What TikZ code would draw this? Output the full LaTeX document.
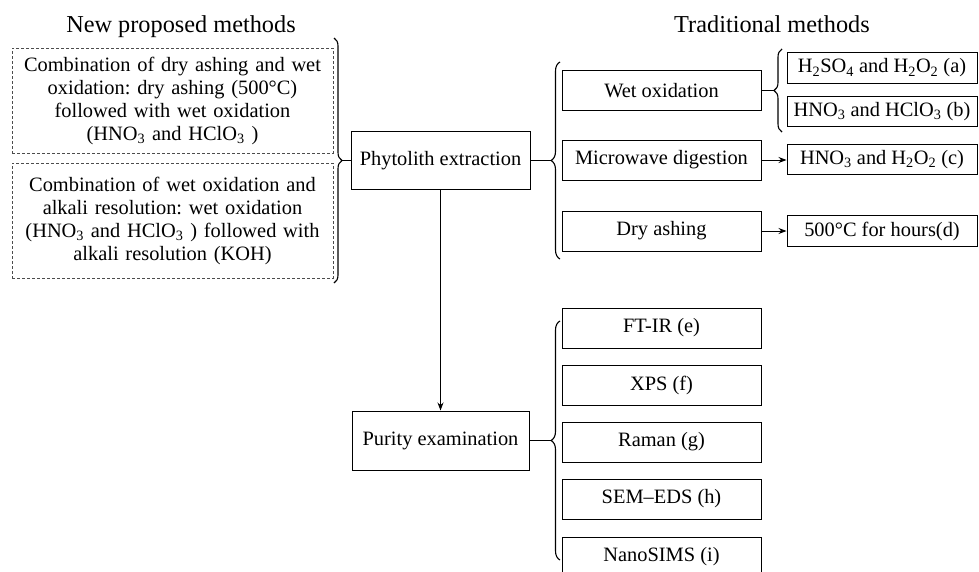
\documentclass[tikz,border=0pt]{standalone}
\usepackage{fontspec}
\setmainfont{Liberation Serif}
\usetikzlibrary{decorations.pathreplacing,arrows.meta}

\newcommand{\sub}[1]{\textsubscript{#1}}
\frenchspacing

\begin{document}
\begin{tikzpicture}[x=1pt,y=-1pt,>={Stealth[length=8pt,width=6pt]},
	box/.style={draw,line width=1pt,inner sep=0pt,font=\fontsize{20.4}{23}\selectfont},
	wide/.style={box,minimum width=199,minimum height=40},
	small/.style={box,minimum width=190,minimum height=30.5},
	dbox/.style={draw=black!70,line width=0.9pt,dash pattern=on 3pt off 2pt,minimum width=321,
		text width=315,align=center,inner sep=0pt,font=\fontsize{20.4}{23}\selectfont},
	title/.style={anchor=base,font=\fontsize{24.3}{28}\selectfont},
	brace/.style={decorate,line width=1.1pt,decoration={brace,amplitude=#1}}]
	\useasboundingbox (0,0) rectangle (979,571);
	% Tiêu đề
	\node[title] (newt) at (181,32) {New proposed methods};
	\node[title] (tradt) at (772,32) {Traditional methods};
	% Phương pháp mới
	\node[dbox,minimum height=105] (comb1) at (172.5,100.5) {Combination of dry ashing and wet\\ oxidation: dry ashing (500°C)\\ followed with wet oxidation\\ (HNO\sub{3} and HClO\sub{3} )};
	\node[dbox,minimum height=115] (comb2) at (172.5,220.5) {Combination of wet oxidation and\\ alkali resolution: wet oxidation\\ (HNO\sub{3} and HClO\sub{3} ) followed with\\ alkali resolution (KOH)};
	\draw[brace=8pt] (334,38) -- (334,283);
	\coordinate (tipnew) at (342,160.5);
	% Hai khối chính
	\node[box,minimum width=179,minimum height=58] (extract) at (440.5,160.5) {Phytolith extraction};
	\node[box,minimum width=177,minimum height=59] (purity) at (440.5,440.5) {Purity examination};
	\draw[line width=1pt] (tipnew) -- (extract.west);
	\draw[->,line width=1pt] (extract.south) -- (purity.north);
	% Phương pháp truyền thống
	\node[wide] (wet) at (661.5,90.5) {Wet oxidation};
	\node[wide] (micro) at (661.5,160) {Microwave digestion};
	\node[wide] (dry) at (661.5,231) {Dry ashing};
	\draw[brace=9pt] (560,259) -- (560,62);
	\coordinate (tiptrad) at (551,160.5);
	\draw[line width=1pt] (extract.east) -- (tiptrad);
	\node[small] (ra) at (882,68) {H\sub{2}SO\sub{4} and H\sub{2}O\sub{2} (a)};
	\node[small] (rb) at (882,111.5) {HNO\sub{3} and HClO\sub{3} (b)};
	\node[small] (rc) at (882,159.5) {HNO\sub{3} and H\sub{2}O\sub{2} (c)};
	\node[small] (rd) at (882,231) {500°C for hours(d)};
	\draw[brace=8pt] (782,132) -- (782,49);
	\coordinate (tipwet) at (774,90.5);
	\draw[line width=1pt] (wet.east) -- (tipwet);
	\draw[->,line width=1pt] (micro.east) -- (micro.east -| rc.west);
	\draw[->,line width=1pt] (dry.east) -- (dry.east -| rd.west);
	% Kiểm tra độ tinh khiết
	\foreach \y/\n/\t in {328/ftir/FT-IR (e),385/xps/XPS (f),442/raman/Raman (g),499/sem/SEM--EDS (h),557/nano/NanoSIMS (i)}
		\node[wide] (\n) at (661.5,\y) {\t};
	\draw[brace=9pt] (560,560) -- (560,321);
	\coordinate (tippur) at (551,440.5);
	\draw[line width=1pt] (purity.east) -- (tippur);
\end{tikzpicture}
\end{document}
